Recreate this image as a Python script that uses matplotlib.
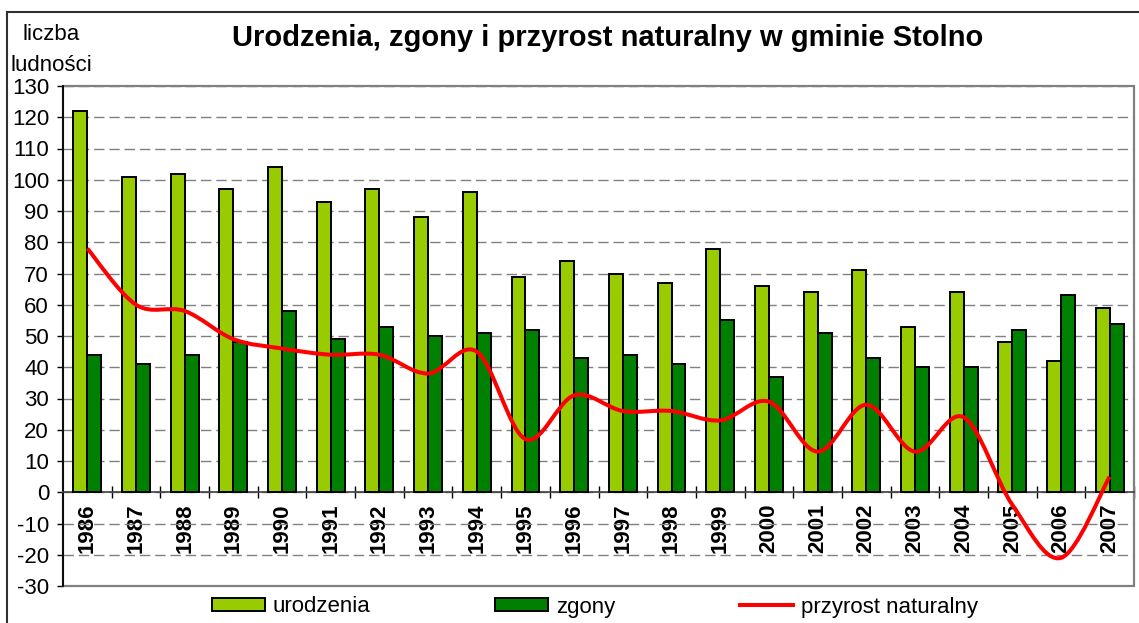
import numpy as np
import matplotlib.pyplot as plt
from matplotlib.path import Path
from matplotlib.patches import PathPatch, Rectangle
from matplotlib.lines import Line2D

plt.rcParams['font.family'] = ['Liberation Sans', 'DejaVu Sans']
plt.rcParams['axes.unicode_minus'] = False

lata = [1986, 1987, 1988, 1989, 1990, 1991, 1992, 1993, 1994, 1995, 1996,
        1997, 1998, 1999, 2000, 2001, 2002, 2003, 2004, 2005, 2006, 2007]
urodzenia = [122, 101, 102, 97, 104, 93, 97, 88, 96, 69, 74,
             70, 67, 78, 66, 64, 71, 53, 64, 48, 42, 59]
zgony = [44, 41, 44, 48, 58, 49, 53, 50, 51, 52, 43,
         44, 41, 55, 37, 51, 43, 40, 40, 52, 63, 54]
przyrost = [78, 60, 58, 49, 46, 44, 44, 38, 45, 17, 31,
            26, 26, 23, 29, 13, 28, 13, 24, -4, -21, 5]

W, H = 1139, 623
fig = plt.figure(figsize=(W / 100, H / 100), dpi=100)
ax = fig.add_axes([63 / W, 37 / H, 1071 / W, 500 / H])

x = np.arange(len(lata))
bw = 0.287
ax.bar(x - bw / 2, urodzenia, bw, color='#99CC00', edgecolor='black', linewidth=1.4,
       zorder=3, label='urodzenia')
ax.bar(x + bw / 2, zgony, bw, color='#008000', edgecolor='black', linewidth=1.4,
       zorder=3, label='zgony')

# wygładzona linia (krzywe Beziera przez punkty, jak w Excelu)
pts = np.column_stack([x, przyrost]).astype(float)
verts = [pts[0]]
codes = [Path.MOVETO]
n = len(pts)
for i in range(n - 1):
    p0 = pts[max(i - 1, 0)]
    p1 = pts[i]
    p2 = pts[i + 1]
    p3 = pts[min(i + 2, n - 1)]
    verts += [p1 + (p2 - p0) / 6, p2 - (p3 - p1) / 6, p2]
    codes += [Path.CURVE4] * 3
ax.add_patch(PathPatch(Path(verts, codes), fill=False, edgecolor='#FF0000',
                       linewidth=2.9, zorder=4, capstyle='butt'))

ax.set_xlim(-0.5, len(lata) - 0.5)
ax.set_ylim(-30, 130)
ax.set_yticks(np.arange(-30, 131, 10))
ax.tick_params(axis='y', direction='out', length=4.5, width=1.0, pad=5.5,
               labelsize=16, color='black')

# oś X przecina w zerze
ax.spines['bottom'].set_position(('data', 0))
ax.spines['bottom'].set_color('#404040')
ax.spines['bottom'].set_linewidth(1.2)
ax.spines['left'].set_color('black')
ax.spines['left'].set_linewidth(1.3)
ax.spines['top'].set_visible(False)
ax.spines['right'].set_visible(False)
ax.add_patch(Rectangle((0, 0), 1, 1, transform=ax.transAxes, fill=False,
                       edgecolor='#808080', linewidth=1.6, zorder=1, clip_on=False))

ax.set_xticks(x + 0.5)
ax.set_xticklabels([])
ax.set_xticks(x, minor=True)
ax.set_xticklabels([str(r) for r in lata], minor=True, rotation=90,
                   fontsize=16, fontweight='bold', va='top')
ax.tick_params(axis='x', which='major', direction='inout', length=8.5, width=1.0,
               color='black')
ax.tick_params(axis='x', which='minor', length=0, pad=8)

ax.yaxis.grid(True, color='#808080', linestyle=(0, (7.5, 3.5)), linewidth=1.0, zorder=0)
ax.set_axisbelow(True)

fig.text(608 / W, 1 - 38 / H, 'Urodzenia, zgony i przyrost naturalny w gminie Stolno',
         ha='center', va='center', fontsize=21, fontweight='bold')
fig.text(51 / W, 1 - 50 / H, 'liczba\nludności', ha='center', va='center',
         fontsize=16, linespacing=1.6)

handles, labels = ax.get_legend_handles_labels()
handles.append(Line2D([], [], color='#FF0000', linewidth=2.9))
labels.append('przyrost naturalny')
fig.legend(handles, labels, loc='center', bbox_to_anchor=(595 / W, 1 - 607 / H),
           ncol=3, frameon=False, fontsize=16, handlelength=2.39,
           handleheight=0.5, handletextpad=0.36, columnspacing=5.6, borderpad=0)

# ramka wykresu
fig.add_artist(Line2D([7 / W, 7 / W], [0, 1 - 12 / H], color='#303030', linewidth=1.5))
fig.add_artist(Line2D([7 / W, 1], [1 - 12 / H, 1 - 12 / H], color='#303030', linewidth=1.5))

fig.savefig('out.png', dpi=100)
